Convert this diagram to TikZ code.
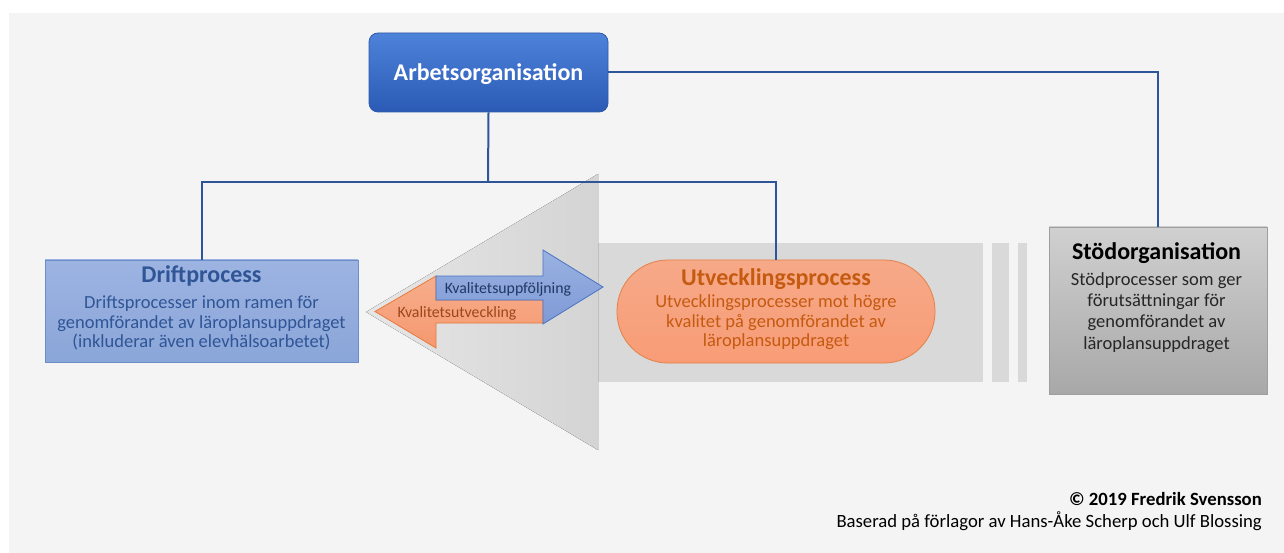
\documentclass[tikz,border=0pt]{standalone}
\usepackage{fontspec}
\setmainfont{Carlito}
\definecolor{bg}{HTML}{F4F4F4}
\definecolor{conn}{HTML}{2E5597}
\definecolor{bigarrow}{HTML}{D9D9D9}
\definecolor{headL}{HTML}{E6E6E6}
\definecolor{headR}{HTML}{D4D4D4}
\definecolor{arbT}{HTML}{4E83DA}
\definecolor{arbB}{HTML}{2A5AB5}
\definecolor{arbD}{HTML}{2F5AA8}
\definecolor{driftT}{HTML}{9DB4E2}
\definecolor{driftB}{HTML}{8AA5D8}
\definecolor{driftD}{HTML}{6C8EC8}
\definecolor{drifttxt}{HTML}{2F5597}
\definecolor{utvT}{HTML}{F6A988}
\definecolor{utvB}{HTML}{F89C76}
\definecolor{utvD}{HTML}{E58049}
\definecolor{utvtxt}{HTML}{C55A11}
\definecolor{stodT}{HTML}{D0D0D0}
\definecolor{stodB}{HTML}{A8A8A8}
\definecolor{stodD}{HTML}{9E9E9E}
\definecolor{stodtxt}{HTML}{262626}
\definecolor{kvbT}{HTML}{9AB2E2}
\definecolor{kvbB}{HTML}{7E9AD6}
\definecolor{kvbD}{HTML}{4A72C2}
\definecolor{kvbtxt}{HTML}{203864}
\definecolor{kvoT}{HTML}{F7AE8C}
\definecolor{kvoB}{HTML}{F5986F}
\definecolor{kvoD}{HTML}{E8793D}
\definecolor{kvotxt}{HTML}{9C461C}
\tikzset{
  conline/.style={draw=conn, line width=2pt},
  arbbox/.style={rectangle, rounded corners=9pt, top color=arbT, bottom color=arbB, draw=arbD, line width=0.8pt, minimum width=239pt, minimum height=79pt, inner sep=0pt},
  driftbox/.style={rectangle, top color=driftT, bottom color=driftB, draw=driftD, line width=0.8pt, minimum width=313pt, minimum height=102pt, inner sep=0pt},
  utvbox/.style={rectangle, rounded corners=51pt, top color=utvT, bottom color=utvB, draw=utvD, line width=0.8pt, minimum width=318pt, minimum height=103pt, inner sep=0pt},
  stodbox/.style={rectangle, top color=stodT, bottom color=stodB, draw=stodD, line width=0.8pt, minimum width=218pt, minimum height=167pt, inner sep=0pt},
  ttl/.style={anchor=base, inner sep=0pt, font=\bfseries\fontsize{24}{28}\selectfont},
  bdy/.style={anchor=base, inner sep=0pt, font=\fontsize{18.5}{22}\selectfont},
  kvblue/.style={top color=kvbT, bottom color=kvbB, draw=kvbD, line width=0.8pt},
  kvorange/.style={top color=kvoT, bottom color=kvoB, draw=kvoD, line width=0.8pt},
  kvtext/.style={font=\fontsize{15.8}{18}\selectfont, inner sep=0pt, anchor=base},
  footfont/.style={font=\fontsize{18.7}{22}\selectfont, inner sep=0pt, anchor=base east},
}
\begin{document}
\begin{tikzpicture}[x=1pt,y=-1pt]
\useasboundingbox (0,0) rectangle (1284,553);
\fill[white] (0,0) rectangle (1284,553);
\fill[bg] (9,13) rectangle (1284,553);
% big grey arrow
\fill[bigarrow] (598,243) rectangle (983,382);
\fill[left color=headL, right color=headR] (598,174) -- (598,450) -- (366,312) -- cycle;
\fill[bigarrow] (992,243) rectangle (1009,382);
\fill[bigarrow] (1018,243) rectangle (1027,382);
% boxes
\node[arbbox] (arb) at (488.5,72.5) {};
\node[ttl, text=white] (arbt) at (488.5,80.5) {Arbetsorganisation};
\node[driftbox] (drift) at (201.5,311) {};
\node[ttl, text=drifttxt] (drift1) at (201.5,283) {Driftprocess};
\node[bdy, text=drifttxt] (drift2) at (201.5,308) {Driftsprocesser inom ramen för};
\node[bdy, text=drifttxt] (drift3) at (201.5,328) {genomförandet av läroplansuppdraget};
\node[bdy, text=drifttxt] (drift4) at (201.5,347.5) {(inkluderar även elevhälsoarbetet)};
\node[utvbox] (utv) at (776,311.5) {};
\node[ttl, text=utvtxt] (utv1) at (776,285) {Utvecklingsprocess};
\node[bdy, text=utvtxt] (utv2) at (776,307) {Utvecklingsprocesser mot högre};
\node[bdy, text=utvtxt] (utv3) at (776,327) {kvalitet på genomförandet av};
\node[bdy, text=utvtxt] (utv4) at (776,346) {läroplansuppdraget};
\node[stodbox] (stod) at (1158,310.5) {};
\node[ttl, text=black] (stod1) at (1156.5,260) {Stödorganisation};
\node[bdy, text=stodtxt] (stod2) at (1156.5,285) {Stödprocesser som ger};
\node[bdy, text=stodtxt] (stod3) at (1156.5,306) {förutsättningar för};
\node[bdy, text=stodtxt] (stod4) at (1156.5,327.5) {genomförandet av};
\node[bdy, text=stodtxt] (stod5) at (1156.5,349) {läroplansuppdraget};
% connectors
\coordinate (j) at (488,182);
\draw[conline] (arb.east) -| (stod.north);
\draw[conline] (arb.south) -- (j);
\draw[conline] (drift.north) |- (j) -| (utv.north);
% small arrows
\draw[kvorange] (375,311.5) -- (436,276) -- (436,300) -- (543,300) -- (543,323) -- (436,323) -- (436,348) -- cycle;
\draw[kvblue] (436,276) -- (543,276) -- (543,250) -- (603,287) -- (543,324) -- (543,300) -- (436,300) -- cycle;
\node[kvtext, text=kvbtxt] (kvb) at (508,293) {Kvalitetsuppföljning};
\node[kvtext, text=kvotxt] (kvo) at (457,317.5) {Kvalitetsutveckling};
% footer
\node[footfont] (copy) at (1262,505) {\bfseries © 2019 Fredrik Svensson};
\node[footfont] (base) at (1262,527) {Baserad på förlagor av Hans-Åke Scherp och Ulf Blossing};
\end{tikzpicture}
\end{document}
